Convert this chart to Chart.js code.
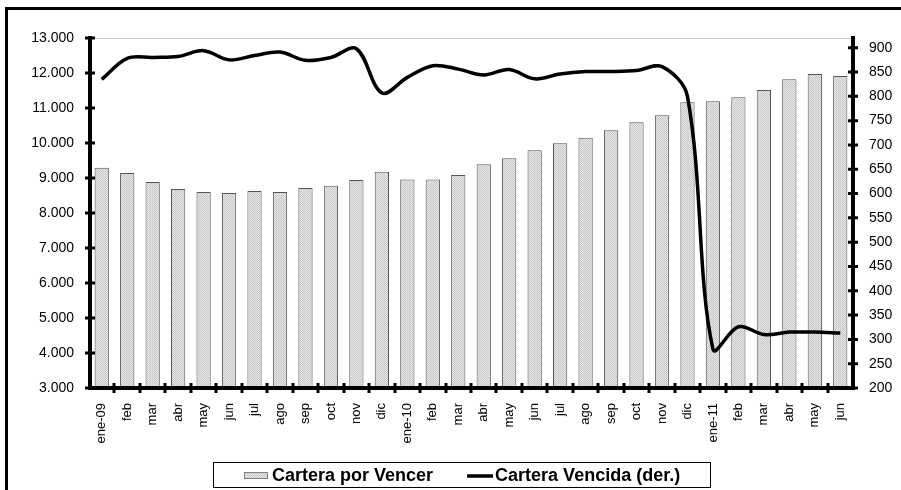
<!DOCTYPE html>
<html>
<head>
<meta charset="utf-8">
<script src="https://cdn.jsdelivr.net/npm/chart.js@4/dist/chart.umd.min.js"></script>
<style>
  body { margin: 0; background: #fff; }
  canvas { display: block; }
</style>
</head>
<body>
<canvas id="myChart" width="901" height="490"></canvas>
<script>
    // datos del grafico
    var meses = ['ene-09', 'feb', 'mar', 'abr', 'may', 'jun', 'jul', 'ago', 'sep', 'oct', 'nov', 'dic',
                 'ene-10', 'feb', 'mar', 'abr', 'may', 'jun', 'jul', 'ago', 'sep', 'oct', 'nov', 'dic',
                 'ene-11', 'feb', 'mar', 'abr', 'may', 'jun'];

    var porVencer = [9290, 9143, 8886, 8686, 8600, 8570, 8630, 8600, 8714, 8780, 8943, 9180,
                     8960, 8960, 9086, 9390, 9562, 9790, 9990, 10152, 10362, 10590, 10790, 11162,
                     11190, 11305, 11514, 11820, 11971, 11914];

    var vencida = [835, 878, 880, 882, 894, 875, 884, 891, 874, 880, 898, 807,
                   839, 863, 856, 844, 855, 836, 846, 851, 851, 853, 861, 800,
                   280, 326, 310, 315, 315, 313];

    var ejeIzq = [3000, 13000, 1000];   // min, max, paso
    var ejeDer = [200, 900, 50];

    var fuente = '"Liberation Sans", Arial, sans-serif';

    // textura punteada de las barras
    var pc = document.createElement('canvas');
    pc.width = 2; pc.height = 2;
    var pctx = pc.getContext('2d');
    pctx.fillStyle = '#e8e8e8'; pctx.fillRect(0, 0, 2, 2);
    pctx.fillStyle = '#c6c6c6'; pctx.fillRect(0, 0, 1, 1); pctx.fillRect(1, 1, 1, 1);
    var trama = pctx.createPattern(pc, 'repeat');

    function miles(v) {
        return String(v).replace(/\B(?=(\d{3})+(?!\d))/g, '.');
    }

    // ejes gruesos con marcas cruzadas, al estilo excel
    var ejesPlugin = {
        id: 'ejes',
        beforeDatasetsDraw: function (chart) {
            var c = chart.ctx, a = chart.chartArea;
            c.save();
            c.strokeStyle = '#c8c8c8';
            c.lineWidth = 1;
            c.beginPath();
            c.moveTo(a.left, a.top + 0.5);
            c.lineTo(a.right, a.top + 0.5);
            c.stroke();
            c.restore();
        },
        afterDatasetsDraw: function (chart) {
            var c = chart.ctx, a = chart.chartArea;
            var yl = chart.scales.y, yr = chart.scales.y1;
            c.save();
            c.strokeStyle = '#000';
            c.lineWidth = 4;
            c.beginPath();
            c.moveTo(a.left + 1, a.top - 2); c.lineTo(a.left + 1, a.bottom + 2);
            c.moveTo(a.right, a.top - 2); c.lineTo(a.right, a.bottom + 2);
            c.moveTo(a.left - 1, a.bottom); c.lineTo(a.right + 2, a.bottom);
            c.stroke();
            c.lineWidth = 3;
            c.beginPath();
            yl.ticks.forEach(function (t) {
                var y = yl.getPixelForValue(t.value);
                c.moveTo(a.left - 4, y); c.lineTo(a.left + 6, y);
            });
            yr.ticks.forEach(function (t) {
                var y = yr.getPixelForValue(t.value);
                c.moveTo(a.right - 5, y); c.lineTo(a.right + 5, y);
            });
            var n = meses.length, w = (a.right - a.left) / n;
            for (var i = 1; i < n; i++) {
                var x = Math.round(a.left + i * w);
                c.moveTo(x, a.bottom - 5); c.lineTo(x, a.bottom + 5);
            }
            c.stroke();
            c.restore();
        },
        afterDraw: function (chart) {
            var c = chart.ctx;
            c.save();
            // marco exterior
            c.strokeStyle = '#000';
            c.lineWidth = 3;
            c.beginPath();
            c.moveTo(6.5, chart.height + 2); c.lineTo(6.5, 8.5); c.lineTo(chart.width + 2, 8.5);
            c.stroke();

            // leyenda dibujada a mano (barras primero, luego linea)
            var dsBar = chart.data.datasets[1], dsLin = chart.data.datasets[0];
            var cy = 475, x = 244;
            c.font = 'bold 18px ' + fuente;
            c.textBaseline = 'middle';
            c.fillStyle = '#000';
            var w1 = c.measureText(dsBar.label).width;
            var w2 = c.measureText(dsLin.label).width;
            var fin = x + 24 + 4 + w1 + 34 + 26 + 2 + w2;
            c.lineWidth = 1;
            c.strokeRect(213.5, 462.5, Math.round(fin + 30 - 213), 25);

            c.fillStyle = dsBar.backgroundColor;
            c.fillRect(x, cy - 3, 24, 7);
            c.strokeStyle = '#808080';
            c.strokeRect(x + 0.5, cy - 2.5, 23, 6);
            x += 28;
            c.fillStyle = '#000';
            c.fillText(dsBar.label, x, cy + 1);
            x += w1 + 34;
            c.strokeStyle = '#000';
            c.lineWidth = 3.5;
            c.beginPath();
            c.moveTo(x, cy + 1); c.lineTo(x + 26, cy + 1);
            c.stroke();
            x += 28;
            c.fillText(dsLin.label, x, cy + 1);
            c.restore();
        }
    };

    var ctx = document.getElementById('myChart').getContext('2d');
    var myChart = new Chart(ctx, {
        type: 'bar',
        data: {
            labels: meses,
            datasets: [{
                type: 'line',
                label: 'Cartera Vencida (der.)',
                data: vencida,
                yAxisID: 'y1',
                borderColor: '#000',
                backgroundColor: '#000',
                borderWidth: 3.5,
                pointRadius: 0,
                tension: 0.35,
                order: 0
            }, {
                label: 'Cartera por Vencer',
                data: porVencer,
                yAxisID: 'y',
                backgroundColor: trama,
                borderColor: '#555',
                borderWidth: 1,
                categoryPercentage: 1,
                barPercentage: 0.56,
                order: 1
            }]
        },
        options: {
            responsive: false,
            animation: false,
            layout: { padding: { top: 38, left: 0, right: 0, bottom: 0 } },
            plugins: {
                tooltip: { enabled: false },
                legend: { display: false }
            },
            scales: {
                x: {
                    grid: { display: false, drawTicks: false },
                    border: { display: false },
                    ticks: {
                        minRotation: 90,
                        maxRotation: 90,
                        autoSkip: false,
                        padding: 15,
                        color: '#000',
                        font: { family: fuente, size: 13 }
                    },
                    afterFit: function (scale) { scale.height = scale.chart.height - 388; }
                },
                y: {
                    position: 'left',
                    min: ejeIzq[0],
                    max: ejeIzq[1],
                    grid: { display: false, drawTicks: false },
                    border: { display: false },
                    ticks: {
                        stepSize: ejeIzq[2],
                        padding: 15,
                        color: '#000',
                        font: { family: fuente, size: 14 },
                        callback: function (v) { return miles(v); }
                    },
                    afterFit: function (scale) { scale.width = 89; }
                },
                y1: {
                    position: 'right',
                    min: ejeDer[0],
                    max: 920,
                    grid: { display: false, drawTicks: false },
                    border: { display: false },
                    ticks: {
                        padding: 16,
                        color: '#000',
                        font: { family: fuente, size: 14 }
                    },
                    afterBuildTicks: function (scale) {
                        var t = [];
                        for (var v = ejeDer[0]; v <= ejeDer[1]; v += ejeDer[2]) t.push({ value: v });
                        scale.ticks = t;
                    },
                    afterFit: function (scale) { scale.width = 48; }
                }
            }
        },
        plugins: [ejesPlugin]
    });
</script>
</body>
</html>
